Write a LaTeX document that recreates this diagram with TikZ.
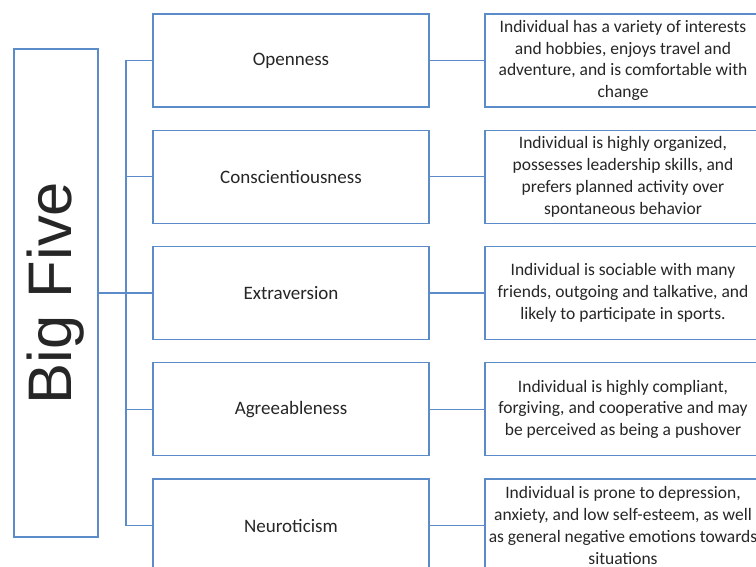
\documentclass[tikz,border=0pt]{standalone}
\usepackage{fontspec}
\setmainfont{Carlito}
\newfontfamily\headfont{Liberation Sans}
\usetikzlibrary{positioning}
\definecolor{b1}{HTML}{5B8BC8}
\definecolor{ink}{HTML}{262626}
\tikzset{
  box/.style={draw=b1,line width=1.3pt,fill=white,minimum width=276pt,minimum height=93pt,inner sep=0pt,text=ink,align=center},
  trait/.style={box,font=\fontsize{19}{23}\selectfont},
  desc/.style={box,font=\fontsize{17.5}{21.8}\selectfont},
  link/.style={draw=b1,line width=1.3pt,line cap=rect}
}

\begin{document}
\begin{tikzpicture}[x=1pt,y=-1pt]
  \def\gap{21.95pt}
  \def\hop{54.7pt}
  \useasboundingbox (0,0) rectangle (756,567);
  \node[box,minimum width=84pt,minimum height=488pt,font=\headfont\fontsize{61.5}{62}\selectfont] (bigfive) at (56,293) {\rotatebox{90}{Big Five}};
  \coordinate (spine) at (126,293);
  % the five traits
  \node[trait] (open) at (291,60.5) {Openness};
  \node[trait,below=\gap of open] (consc) {Conscientiousness};
  \node[trait,below=\gap of consc] (extra) {Extraversion};
  \node[trait,below=\gap of extra] (agree) {Agreeableness};
  \node[trait,below=\gap of agree] (neuro) {Neuroticism};
  % what each one means
  \node[desc,right=\hop of open] (d-open) {Individual has a variety of interests\\ and hobbies, enjoys travel and\\ adventure, and is comfortable with\\ change};
  \node[desc,right=\hop of consc] (d-consc) {Individual is highly organized,\\ possesses leadership skills, and\\ prefers planned activity over\\ spontaneous behavior};
  \node[desc,right=\hop of extra] (d-extra) {Individual is sociable with many\\ friends, outgoing and talkative, and\\ likely to participate in sports.};
  \node[desc,right=\hop of agree] (d-agree) {Individual is highly compliant,\\ forgiving, and cooperative and may\\ be perceived as being a pushover};
  \node[desc,right=\hop of neuro] (d-neuro) {Individual is prone to depression,\\ anxiety, and low self-esteem, as well\\ as general negative emotions towards\\ situations};
  \draw[link] (bigfive.east) -- (spine);
  \draw[link] (spine |- open.west) -- (spine |- neuro.west);
  \foreach \t in {open,consc,extra,agree,neuro} {
    \draw[link] (spine |- \t.west) -- (\t.west);
    \draw[link] (\t.east) -- (d-\t.west);
  }
\end{tikzpicture}
\end{document}
